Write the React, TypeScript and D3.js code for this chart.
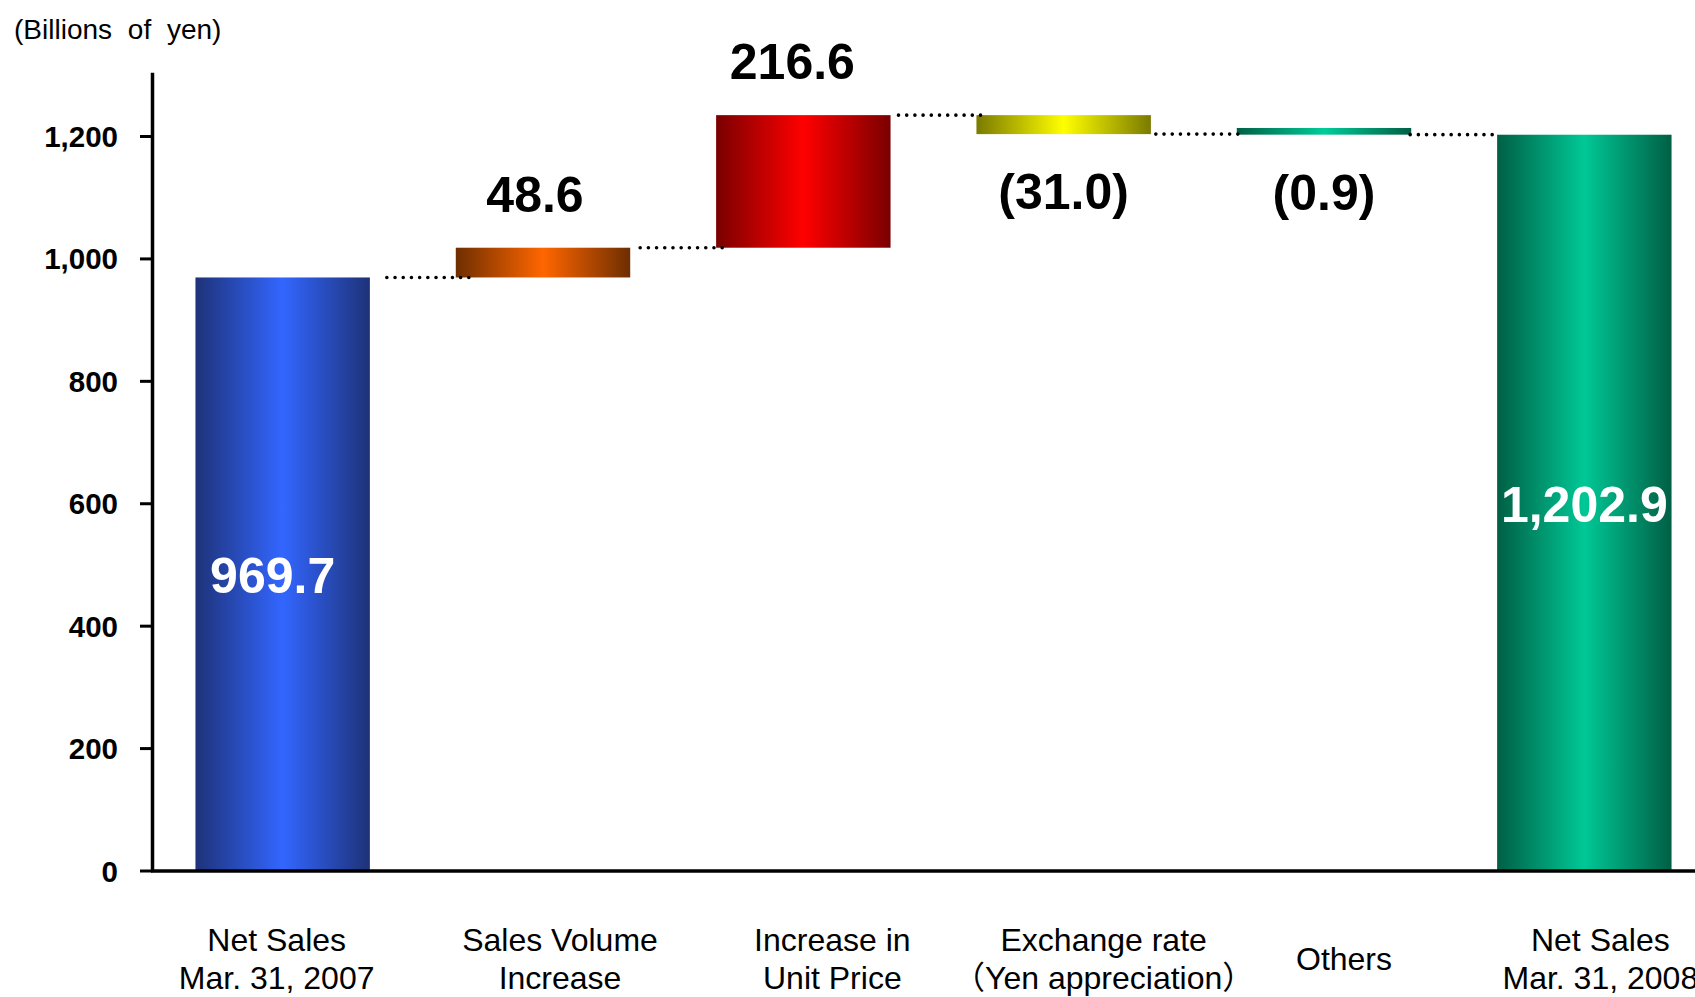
import React from "react";
import * as d3 from "d3";

// ---- data ----
const categories: string[][] = [
  ["Net Sales", "Mar. 31, 2007"],
  ["Sales Volume", "Increase"],
  ["Increase in", "Unit Price"],
  ["Exchange rate", "（Yen appreciation）"],
  ["Others"],
  ["Net Sales", "Mar. 31, 2008"],
];
const kinds: string[] = ["total", "delta", "delta", "delta", "delta", "total"];
const values: number[] = [969.7, 48.6, 216.6, -31.0, -0.9, 1202.9];
const valueLabels: string[] = ["969.7", "48.6", "216.6", "(31.0)", "(0.9)", "1,202.9"];
const yTicks: number[] = [0, 200, 400, 600, 800, 1000, 1200];
const unitLabel = "(Billions of yen)";

// ---- layout / style (not data) ----
const W = 1695;
const H = 997;
const axisX = 152.5;
const xRight = 1714.5;
const y0px = 871;
const y1200px = 136.5;
const axisTop = 72.7;
const gradients = [
  { id: "gBlue", dark: "#1E3278", light: "#3366FF" },
  { id: "gOrange", dark: "#6E2E00", light: "#FF6600" },
  { id: "gRed", dark: "#7A0000", light: "#FF0000" },
  { id: "gYellow", dark: "#7A7A00", light: "#FFFF00" },
  { id: "gTeal", dark: "#005F45", light: "#00CC99" },
  { id: "gGreen", dark: "#005F45", light: "#00C896" },
];
const valueLabelDx = [-10, -8, -11, 0, 0, 0];
const catLabelDx = [-6, 17, 29, 40, 20, 16];
const connectorDx = [19, 12, 10, 7, 1];
const FONT = "'Liberation Sans', Arial, 'Noto Sans CJK JP', sans-serif";

export default function App() {
  const x = d3
    .scaleBand<number>()
    .domain(d3.range(values.length))
    .range([axisX, xRight])
    .paddingInner(0.33)
    .paddingOuter(0.165);
  const y = d3.scaleLinear().domain([0, 1200]).range([y0px, y1200px]);

  // waterfall computation
  let running = 0;
  const bars = values.map((v, i) => {
    let lo: number, hi: number, end: number;
    if (kinds[i] === "total") {
      lo = 0;
      hi = v;
      end = v;
      running = v;
    } else {
      const start = running;
      end = running + v;
      lo = Math.min(start, end);
      hi = Math.max(start, end);
      running = end;
    }
    return { i, lo, hi, end, v };
  });

  const bw = x.bandwidth();
  const minH = 6.7;

  return (
    <svg width={W} height={H} style={{ display: "block", position: "absolute", left: 0, top: 0 }}>
      <defs>
        {gradients.map((g) => (
          <linearGradient key={g.id} id={g.id} x1="0" x2="1" y1="0" y2="0">
            <stop offset="0" stopColor={g.dark} />
            <stop offset="0.5" stopColor={g.light} />
            <stop offset="1" stopColor={g.dark} />
          </linearGradient>
        ))}
      </defs>
      <rect x={0} y={0} width={W} height={H} fill="#fff" />

      {/* unit label */}
      <text x={14} y={39} fontFamily={FONT} fontSize={28} wordSpacing={8} fill="#000">
        {unitLabel}
      </text>

      {/* bars */}
      {bars.map((b) => {
        const x0 = x(b.i)!;
        let top = y(b.hi);
        const bottom = y(b.lo);
        if (bottom - top < minH) top = bottom - minH;
        return (
          <rect
            key={b.i}
            x={x0}
            y={top}
            width={bw}
            height={bottom - top}
            fill={`url(#${gradients[b.i].id})`}
          />
        );
      })}

      {/* connectors */}
      {bars.slice(0, -1).map((b, k) => {
        const prevEnd = x(b.i)! + bw;
        const nextStart = x(b.i + 1)!;
        const mid = (prevEnd + nextStart) / 2 + connectorDx[k];
        const yy = y(b.end);
        return (
          <line
            key={k}
            x1={mid - 45}
            x2={mid + 45}
            y1={yy}
            y2={yy}
            stroke="#000"
            strokeWidth={3.6}
            strokeLinecap="round"
            strokeDasharray="0 8.2"
          />
        );
      })}

      {/* value labels */}
      {bars.map((b) => {
        const cx = x(b.i)! + bw / 2 + valueLabelDx[b.i];
        let ty: number;
        let fill = "#000";
        if (kinds[b.i] === "total") {
          ty = (y(b.lo) + y(b.hi)) / 2 + 19;
          fill = "#fff";
        } else if (b.v >= 0) {
          ty = y(b.hi) - 36;
        } else {
          ty = y(b.lo) + 75;
        }
        return (
          <text
            key={b.i}
            x={cx}
            y={ty}
            textAnchor="middle"
            fontFamily={FONT}
            fontWeight="bold"
            fontSize={50}
            fill={fill}
          >
            {valueLabels[b.i]}
          </text>
        );
      })}

      {/* y axis */}
      <line x1={axisX} x2={axisX} y1={axisTop} y2={y0px} stroke="#000" strokeWidth={3.5} />
      {yTicks.map((t) => (
        <g key={t}>
          <line x1={axisX - 12.5} x2={axisX} y1={y(t)} y2={y(t)} stroke="#000" strokeWidth={3} />
          <text
            x={118}
            y={y(t) + 10.5}
            textAnchor="end"
            fontFamily={FONT}
            fontWeight="bold"
            fontSize={29.5}
            fill="#000"
          >
            {d3.format(",")(t)}
          </text>
        </g>
      ))}
      {/* x axis */}
      <line x1={axisX - 1.5} x2={W} y1={y0px} y2={y0px} stroke="#000" strokeWidth={3.5} />

      {/* category labels */}
      {categories.map((lines, i) => {
        const cx = x(i)! + bw / 2 + catLabelDx[i];
        const baseY = lines.length === 1 ? 970 : 951;
        return (
          <text key={i} textAnchor="middle" fontFamily={FONT} fontSize={32} fill="#000">
            {lines.map((ln, j) => (
              <tspan key={j} x={cx} y={baseY + j * 38}>
                {ln}
              </tspan>
            ))}
          </text>
        );
      })}
    </svg>
  );
}
